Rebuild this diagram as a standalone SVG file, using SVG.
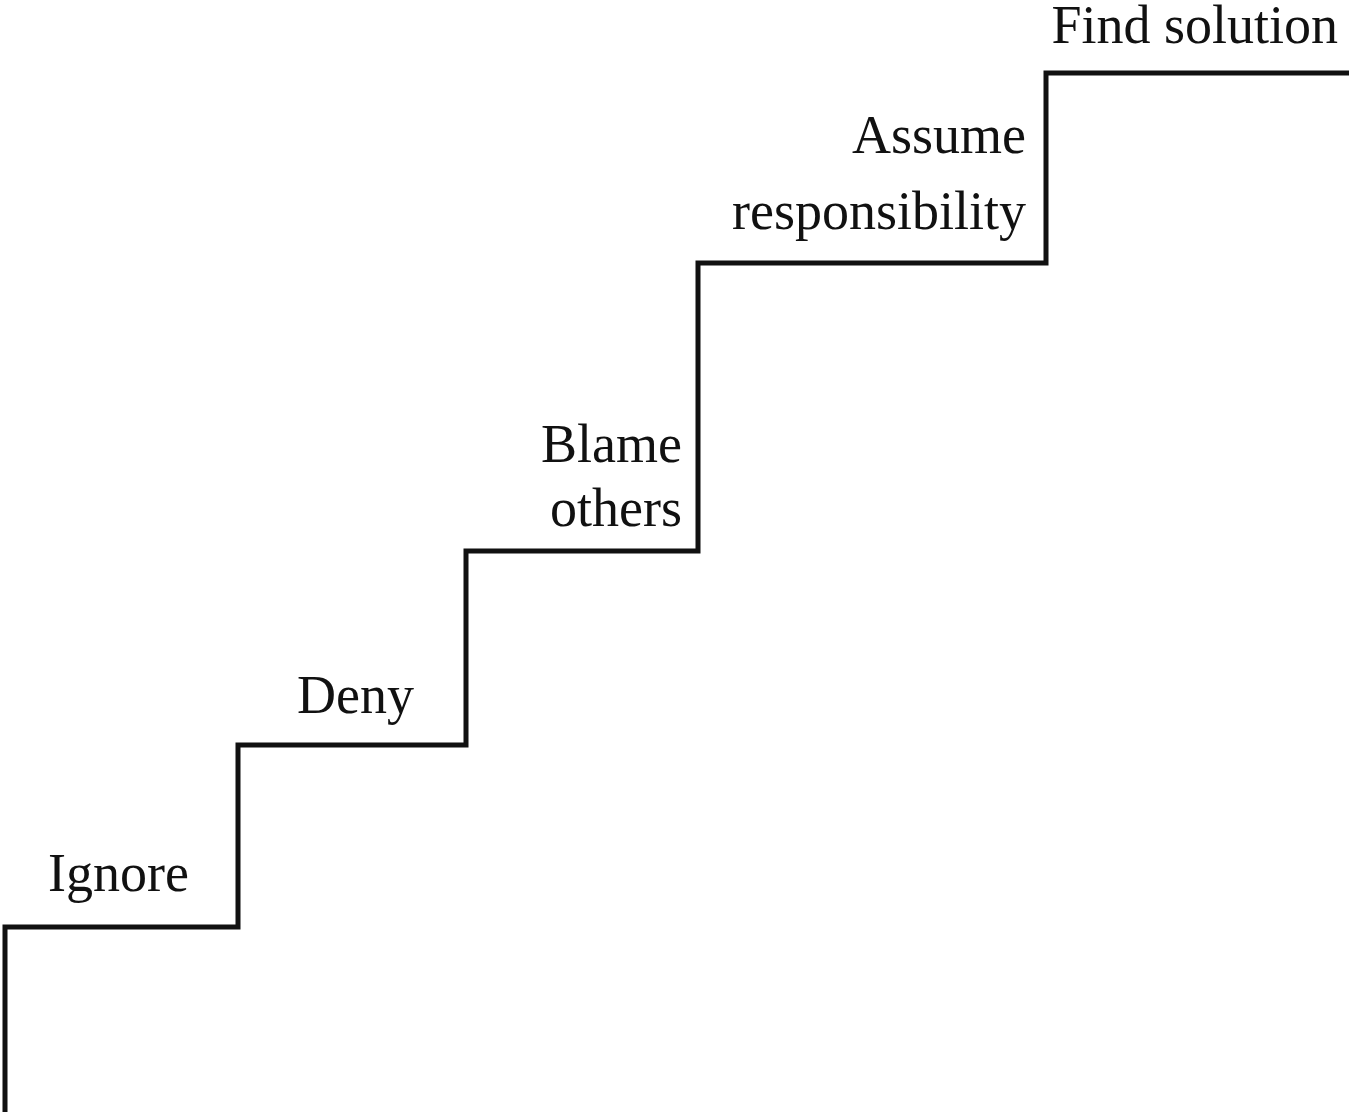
<svg xmlns="http://www.w3.org/2000/svg" width="1349" height="1112" viewBox="0 0 1349 1112">
<style>
.t{font-family:"Liberation Serif","DejaVu Serif",serif;font-size:54px;fill:#111111}
.e{text-anchor:end}
.stair{fill:none;stroke:#111111;stroke-width:5;stroke-linejoin:miter}
</style>
<rect width="1349" height="1112" fill="#ffffff"/>
<g id="connectors">
<path class="stair" d="M5,1112 V927 H238 V745 H466 V551 H698 V263 H1046 V73 H1349"/>
</g>
<g id="ignore"><text class="t" x="48" y="891">Ignore</text></g>
<g id="deny"><text class="t e" x="414" y="713">Deny</text></g>
<g id="blame"><text class="t e" x="682" y="462">Blame</text><text class="t e" x="682" y="526">others</text></g>
<g id="assume"><text class="t e" x="1026" y="153">Assume</text><text class="t e" x="1026" y="229">responsibility</text></g>
<g id="find"><text class="t e" x="1338" y="43">Find solution</text></g>
</svg>
